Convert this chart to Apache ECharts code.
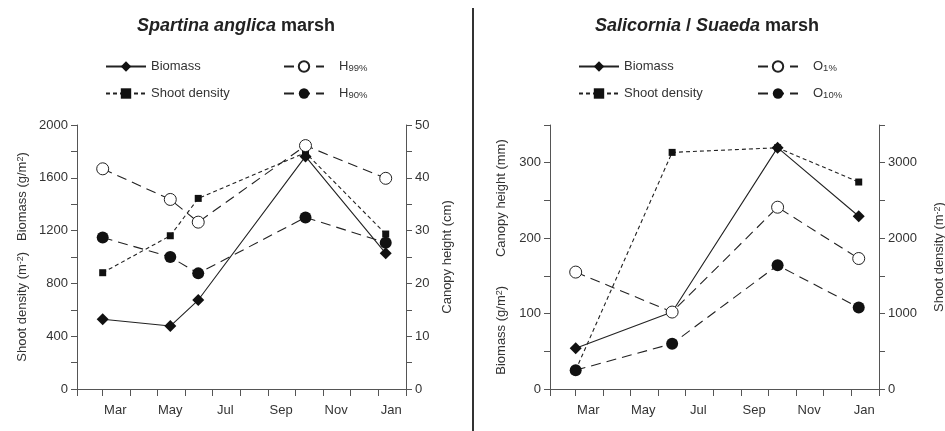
<!DOCTYPE html>
<html>
<head>
<meta charset="utf-8">
<script src="https://cdn.jsdelivr.net/npm/echarts@6/dist/echarts.min.js"></script>
<style>
  html, body { margin: 0; padding: 0; background: #fff; }
  #chart { width: 945px; height: 431px; }
</style>
</head>
<body>
<div id="chart"></div>
<script>
// ---------- data ----------
const monthNames = ['Jan','Feb','Mar','Apr','May','Jun','Jul','Aug','Sep','Oct','Nov','Dec'];
const labelledMonths = ['03','05','07','09','11','01'];

// Spartina anglica marsh
const spartinaDates = ['2001-03-01','2001-05-15','2001-06-15','2001-10-12','2002-01-09'];
const spartinaBiomass = [528, 477, 674, 1762, 1028];        // g/m2
const spartinaShootDensity = [881, 1161, 1444, 1790, 1174];  // m-2
const spartinaH99 = [41.7, 35.9, 31.6, 46.1, 39.9];          // cm
const spartinaH90 = [28.7, 25.0, 21.9, 32.5, 27.7];          // cm

// Salicornia / Suaeda marsh
const salicorniaDates = ['2001-03-01','2001-06-16','2001-10-11','2002-01-09'];
const salicorniaBiomass = [54, 102, 320, 229];               // g/m2
const salicorniaShootDensity = [250, 3137, 3198, 2744];      // m-2
const salicorniaO1 = [155, 102, 241, 173];                   // mm
const salicorniaO10 = [25, 60, 164, 108];                    // mm

// ---------- helpers ----------
function dayCategories() {
  const out = [];
  const d = new Date(Date.UTC(2001, 1, 1));
  for (let i = 0; i < 365; i++) {
    out.push(d.toISOString().slice(0, 10));
    d.setUTCDate(d.getUTCDate() + 1);
  }
  return out;
}
const days = dayCategories();
const pairs = (dates, vals) => dates.map((d, i) => [d, vals[i]]);

const FONT = 'Liberation Sans, Arial, Helvetica, sans-serif';
const AXIS_COLOR = '#555';
const LINE_COLOR = '#222';
const TEXT_COLOR = '#333';

function xAxisDef(gridIndex) {
  return {
    type: 'category', gridIndex, data: days, boundaryGap: true,
    axisLine: { lineStyle: { color: AXIS_COLOR, width: 1 } },
    axisTick: { show: true, length: 7, lineStyle: { color: AXIS_COLOR },
      interval: (idx, val) => val.slice(8) === '01' },
    axisLabel: { color: TEXT_COLOR, fontSize: 13, fontFamily: FONT, margin: 15,
      interval: (idx, val) => val.slice(8) === '15' && labelledMonths.includes(val.slice(5, 7)),
      formatter: (val) => monthNames[parseInt(val.slice(5, 7), 10) - 1] },
    splitLine: { show: false }
  };
}
function yAxisDef(gridIndex, position, max, interval, labelEvery, name, nameGap, rich) {
  return {
    type: 'value', gridIndex, position, min: 0, max, interval,
    name, nameLocation: 'middle', nameRotate: 90, nameGap,
    nameTextStyle: { color: TEXT_COLOR, fontSize: 13, fontFamily: FONT, rich },
    axisLine: { show: true, lineStyle: { color: AXIS_COLOR, width: 1 } },
    axisTick: { show: true, length: 6, lineStyle: { color: AXIS_COLOR } },
    axisLabel: { color: TEXT_COLOR, fontSize: 13, fontFamily: FONT, margin: 9,
      formatter: (v) => (Math.round(v) % labelEvery === 0 ? String(v) : '') },
    splitLine: { show: false }
  };
}
const supRich = {
  n: { fontSize: 13, fontFamily: FONT, color: TEXT_COLOR },
  s: { fontSize: 9, fontFamily: FONT, color: TEXT_COLOR, verticalAlign: 'top' }
};

function seriesDef(name, xi, yi, data, kind) {
  const base = {
    name, type: 'line', xAxisIndex: xi, yAxisIndex: yi, data,
    showAllSymbol: true, animation: false, silent: true,
    lineStyle: { color: LINE_COLOR, width: 1.1 },
    emphasis: { disabled: true }
  };
  if (kind === 'biomass') {
    Object.assign(base, { symbol: 'diamond', symbolSize: 12, itemStyle: { color: '#111' } });
  } else if (kind === 'density') {
    Object.assign(base, { symbol: 'rect', symbolSize: 7, itemStyle: { color: '#111' } });
    base.lineStyle.type = [4, 3];
  } else if (kind === 'open') {
    Object.assign(base, { symbol: 'circle', symbolSize: 12,
      itemStyle: { color: '#fff', borderColor: '#222', borderWidth: 1 } });
    base.lineStyle.type = [10, 6];
  } else {
    Object.assign(base, { symbol: 'circle', symbolSize: 12, itemStyle: { color: '#111' } });
    base.lineStyle.type = [10, 6];
  }
  return base;
}

function legendDef(left, data, subscript) {
  const l = {
    left, top: 60, orient: 'vertical', padding: 0, itemGap: 14,
    itemWidth: 40, itemHeight: 13, selectedMode: false, data,
    textStyle: { color: TEXT_COLOR, fontSize: 13, fontFamily: FONT }
  };
  if (subscript) {
    l.formatter = (name) => '{a|' + name.charAt(0) + '}{b|' + name.slice(1) + '}';
    l.textStyle.rich = {
      a: { fontSize: 13, fontFamily: FONT, color: TEXT_COLOR, padding: [0, 0, 0, 10] },
      b: { fontSize: 9.5, fontFamily: FONT, color: TEXT_COLOR, verticalAlign: 'bottom' }
    };
  }
  return l;
}

const titleRich = {
  i: { fontSize: 18, fontWeight: 'bold', fontStyle: 'italic', fontFamily: FONT, color: '#222' },
  b: { fontSize: 18, fontWeight: 'bold', fontFamily: FONT, color: '#222' }
};

const option = {
  animation: false,
  backgroundColor: '#fff',
  title: [
    { text: '{i|Spartina anglica} {b|marsh}', left: 236, top: 17, textAlign: 'center', padding: 0,
      textStyle: { rich: titleRich } },
    { text: '{i|Salicornia} {b|/} {i|Suaeda} {b|marsh}', left: 707, top: 17, textAlign: 'center', padding: 0,
      textStyle: { rich: titleRich } }
  ],
  legend: [
    legendDef(105, ['Biomass', 'Shoot density'], false),
    legendDef(283, ['H99%', 'H90%'], true),
    legendDef(578, ['Biomass', 'Shoot density'], false),
    legendDef(757, ['O1%', 'O10%'], true)
  ],
  grid: [
    { left: 77, top: 125, width: 329, height: 264, containLabel: false, outerBoundsMode: 'none' },
    { left: 550, top: 125, width: 329, height: 264, containLabel: false, outerBoundsMode: 'none' }
  ],
  xAxis: [xAxisDef(0), xAxisDef(1)],
  yAxis: [
    yAxisDef(0, 'left', 2000, 200, 400,
      '{n|Shoot density (m}{s|-2}{n|)   Biomass (g/m}{s|2}{n|)}', 48, supRich),
    yAxisDef(0, 'right', 50, 5, 10, 'Canopy height (cm)', 35, supRich),
    yAxisDef(1, 'left', 350, 50, 100,
      '{n|Biomass (g/m}{s|2}{n|)        Canopy height (mm)}', 42, supRich),
    yAxisDef(1, 'right', 3500, 500, 1000, '{n|Shoot density (m}{s|-2}{n|)}', 54, supRich)
  ],
  graphic: [
    { type: 'line', shape: { x1: 473, y1: 8, x2: 473, y2: 431 },
      style: { stroke: '#333', lineWidth: 2 }, silent: true }
  ],
  series: [
    seriesDef('Shoot density', 0, 0, pairs(spartinaDates, spartinaShootDensity), 'density'),
    seriesDef('Biomass', 0, 0, pairs(spartinaDates, spartinaBiomass), 'biomass'),
    seriesDef('H99%', 0, 1, pairs(spartinaDates, spartinaH99), 'open'),
    seriesDef('H90%', 0, 1, pairs(spartinaDates, spartinaH90), 'filled'),
    seriesDef('Shoot density', 1, 3, pairs(salicorniaDates, salicorniaShootDensity), 'density'),
    seriesDef('Biomass', 1, 2, pairs(salicorniaDates, salicorniaBiomass), 'biomass'),
    seriesDef('O1%', 1, 2, pairs(salicorniaDates, salicorniaO1), 'open'),
    seriesDef('O10%', 1, 2, pairs(salicorniaDates, salicorniaO10), 'filled')
  ]
};

const chart = echarts.init(document.getElementById('chart'), null, { renderer: 'canvas' });
chart.setOption(option);
</script>
</body>
</html>
